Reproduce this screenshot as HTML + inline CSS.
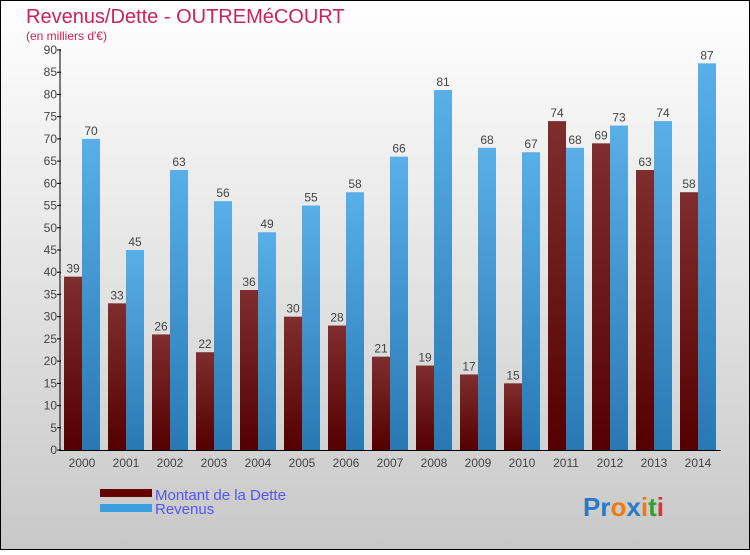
<!DOCTYPE html>
<html><head><meta charset="utf-8"><style>
body{margin:0}
#c{width:750px;height:550px;position:relative;font-family:"Liberation Sans",sans-serif}
</style></head><body>
<div id="c">
<svg id="s" width="750" height="550" xmlns="http://www.w3.org/2000/svg">
<defs>
<linearGradient id="bg" x1="0" y1="0" x2="0" y2="1"><stop offset="0" stop-color="#ffffff"/><stop offset="1" stop-color="#c8c8c8"/></linearGradient>
<linearGradient id="gd" x1="0" y1="0" x2="0" y2="1"><stop offset="0" stop-color="#7e2e2e"/><stop offset="1" stop-color="#550000"/></linearGradient>
<linearGradient id="gr" x1="0" y1="0" x2="0" y2="1"><stop offset="0" stop-color="#5aafe8"/><stop offset="1" stop-color="#2878b4"/></linearGradient>
</defs>
<rect x="0.5" y="0.5" width="749" height="549" fill="url(#bg)" stroke="#000"/>
<text x="26" y="23" font-size="20" fill="#c8245a">Revenus/Dette - OUTREMéCOURT</text>
<text x="26" y="40" font-size="12" fill="#c8245a">(en milliers d'€)</text>
<g id="plot"></g>
<rect x="100" y="489" width="52" height="8" fill="#660000"/>
<rect x="100" y="504" width="52" height="8" fill="#3a9ee0"/>
<text x="155" y="500" font-size="15" fill="#5555ee">Montant de la Dette</text>
<text x="155" y="514" font-size="15" fill="#5555ee">Revenus</text>
<text x="583" y="516" font-size="26" font-weight="bold"><tspan fill="#2a7ac8">Pr</tspan><tspan fill="#f07a10">o</tspan><tspan fill="#2a7ac8">x</tspan><tspan fill="#f07a10">i</tspan><tspan fill="#30a030">t</tspan><tspan fill="#e03030">i</tspan></text>
</svg>
</div>
<script>
const years=["2000","2001","2002","2003","2004","2005","2006","2007","2008","2009","2010","2011","2012","2013","2014"];
const dette=[39,33,26,22,36,30,28,21,19,17,15,74,69,63,58];
const revenus=[70,45,63,56,49,55,58,66,81,68,67,68,73,74,87];
const yTicks=[0,5,10,15,20,25,30,35,40,45,50,55,60,65,70,75,80,85,90];
const NS="http://www.w3.org/2000/svg";
const g=document.getElementById('plot');
const y0=450,yTop=50,yMax=90;
const y=v=>y0-(v/yMax)*(y0-yTop);
const gx=i=>64+44*i;
function mk(t,a){const e=document.createElementNS(NS,t);for(const k in a)e.setAttribute(k,a[k]);g.appendChild(e);return e;}
years.forEach((yr,i)=>{
 let r=mk('rect',{x:gx(i),y:y(dette[i]),width:18,height:y0-y(dette[i]),fill:'url(#gd)'});
 
 
 r=mk('rect',{x:gx(i)+18,y:y(revenus[i]),width:18,height:y0-y(revenus[i]),fill:'url(#gr)'});
 
 
 let t=mk('text',{x:gx(i)+9,y:y(dette[i])-4,'font-size':12,'text-anchor':'middle',fill:'#444'});t.textContent=dette[i];
 
 
 t=mk('text',{x:gx(i)+27,y:y(revenus[i])-4,'font-size':12,'text-anchor':'middle',fill:'#444'});t.textContent=revenus[i];
 
 
 t=mk('text',{x:gx(i)+18,y:467,'font-size':12,'text-anchor':'middle',fill:'#444'});t.textContent=yr;
 
 
});
yTicks.forEach(v=>{
 let l=mk('line',{x1:57,x2:61,y1:y(v),y2:y(v),stroke:'#000'});
 
 
 let t=mk('text',{x:57,y:y(v)+4,'font-size':12,'text-anchor':'end',fill:'#444'});t.textContent=v;
 
 
});
let a=mk('line',{x1:60,x2:60,y1:49,y2:451,stroke:'#000'});


a=mk('line',{x1:59,x2:721,y1:450.5,y2:450.5,stroke:'#000'});


</script>
</body></html>
